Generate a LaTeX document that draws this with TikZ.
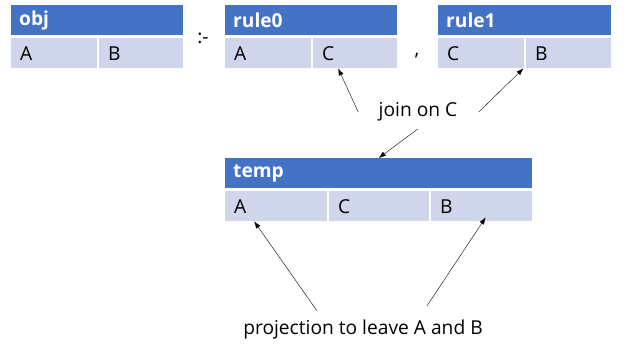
\documentclass[tikz,border=0pt]{standalone}
\usepackage{fontspec}
\setmainfont{Open Sans}
\usetikzlibrary{arrows.meta}
\definecolor{headblue}{HTML}{4472C4}
\definecolor{cellblue}{HTML}{CFD5EA}
\newcommand\labelsize{\fontsize{19.2}{22}\selectfont}
\tikzset{
  head/.style={fill=headblue, text=white, font=\labelsize\bfseries, anchor=north west,
    inner xsep=8pt, inner ysep=0pt, minimum height=30pt, align=left, text width=#1},
  cell/.style={fill=cellblue, anchor=north west,
    inner xsep=9pt, inner ysep=0pt, minimum height=30pt, align=left, text width=#1},
}
\begin{document}
\begin{tikzpicture}[x=1pt, y=-1pt, >={Latex[length=7pt,width=5pt]}, every node/.style={font=\labelsize}]
  \useasboundingbox (0,0) rectangle (628,347);
  % head relation
  \node[head=156pt] (obj) at (11,5) {obj};
  \node[cell=68pt] (objA) at (11,38) {A};
  \node[cell=66pt] (objB) at (99,38) {B};
  \node (neck) at (203,38) {:-};
  % first body relation
  \node[head=156pt] (rule0) at (225,5) {rule0};
  \node[cell=68pt] (r0A) at (225,38) {A};
  \node[cell=66pt] (r0C) at (313,38) {C};
  \node (comma) at (417,56) {,};
  % second body relation
  \node[head=157pt] (rule1) at (438,5) {rule1};
  \node[cell=68pt] (r1C) at (438,38) {C};
  \node[cell=67pt] (r1B) at (526,38) {B};
  % joined relation
  \node (join) at (418,112) {join on C};
  \node[head=291pt] (temp) at (225,158) {temp};
  \node[cell=84pt] (tA) at (225,191) {A};
  \node[cell=82pt] (tC) at (329,191) {C};
  \node[cell=83pt] (tB) at (431,191) {B};
  \node (proj) at (363,330) {projection to leave A and B};
  % arrows
  \draw[->] ([xshift=-17pt]join.west) -- ([xshift=-17pt]r0C.south);
  \draw[->] ([xshift=18pt]join.east) -- ([xshift=-1pt]r1C.south east);
  \draw[->] ([yshift=-4pt]join.south) -- (temp.north);
  \draw[->] ([xshift=-46pt,yshift=6pt]proj.north) -- ([xshift=-22pt]tA.south);
  \draw[->] ([xshift=64pt,yshift=11pt]proj.north) -- ([xshift=4pt,yshift=4pt]tB.south);
\end{tikzpicture}
\end{document}
